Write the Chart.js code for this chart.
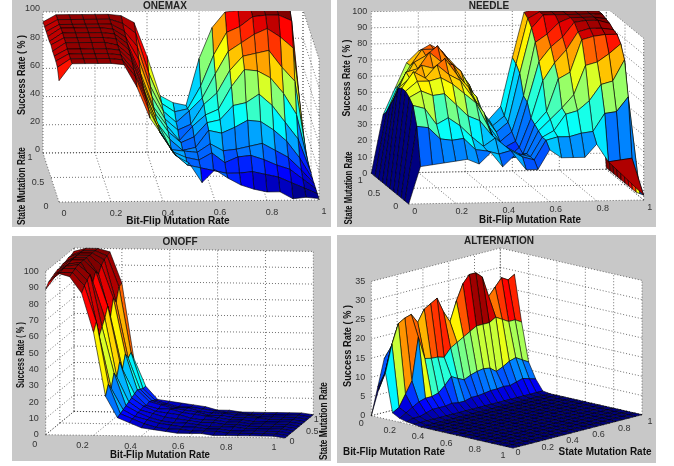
<!DOCTYPE html>
<html>
<head>
<meta charset="utf-8">
<style>
  body { margin: 0; background: #fff; width: 674px; height: 466px; overflow: hidden; }
  .panel { position: absolute; background: #c8c8c8; }
  canvas { position: absolute; filter: blur(0.4px); }
</style>
<script src="https://cdn.jsdelivr.net/npm/chart.js@4"></script>
</head>
<body>
<script>
// grids shared by the four surfaces
const bitFlipGrid = [0,.05,.1,.15,.2,.25,.3,.35,.4,.45,.5,.55,.6,.65,.7,.75,.8,.85,.9,.95,1];
const stateGrid = [0,.1,.2,.3,.4,.5,.6,.7,.8,.9,1];

// success rate, one row per state mutation rate
const onemaxRates = [
  [86,98,98,98,98,97,81,59,46,32,27,13,22,16,11,8,6,6,1,2,1],
  [92,98,98,98,98,97,85,62,44,30,22,20,18,16,16,17,15,13,9,5,1],
  [93,98,98,98,98,97,86,64,42,28,24,22,27,20,24,25,22,18,15,8,1],
  [93,98,98,98,98,97,88,65,44,26,25,24,30,25,26,28,30,25,20,11,1],
  [93,99,99,99,99,97,89,66,42,30,22,24,36,34,38,43,42,36,28,16,1],
  [94,99,99,99,99,98,90,68,45,32,24,28,38,40,50,52,58,50,38,26,2],
  [93,99,99,99,99,98,91,70,46,33,22,32,40,44,60,72,71,66,55,40,2],
  [93,99,99,99,99,98,92,76,50,34,26,30,44,52,68,78,80,82,70,60,2],
  [93,98,98,98,98,98,93,82,54,36,28,36,45,62,78,84,90,94,88,80,3],
  [93,98,98,98,98,98,95,88,60,38,32,34,50,72,88,92,99,100,100,96,3],
  [93,98,98,98,98,98,97,92,68,40,35,33,66,88,99,100,100,100,100,100,3]
];
const needleRates = [
  [0,23,24,25,26,27,24,31,22,29,20,20,32,27,27,27,35,24,25,26,3],
  [0,46,45,38,37,38,31,30,28,30,26,24,36,38,38,40,41,52,53,62,2],
  [0,57,55,45,49,44,37,31,36,30,26,24,36,40,50,52,58,68,70,83,1],
  [0,60,64,61,62,55,48,45,36,26,22,24,38,45,52,60,78,80,85,91,1],
  [0,62,68,68,70,66,60,54,40,24,20,22,40,48,68,72,92,94,95,95,1],
  [0,62,72,68,76,70,66,56,46,26,18,24,42,65,76,84,95,97,97,96,1],
  [0,60,66,74,72,78,68,60,46,30,22,26,50,75,84,90,99,100,100,98,1],
  [0,52,68,70,80,74,72,60,52,34,24,30,52,85,90,97,100,100,100,99,1],
  [0,46,60,72,76,82,72,66,52,38,28,34,64,92,100,100,100,100,100,100,1],
  [0,40,56,68,78,78,74,66,56,40,30,36,68,96,100,100,100,100,100,100,1],
  [0,36,52,68,75,79,75,64,56,41,32,40,70,98,100,100,100,100,100,100,1]
];
const onoffRates = [
  [89,99,97,87,63,24,11,8,5,4,3,2,2,2,1,1,1,1,1,1,0],
  [92,98,98,90,68,30,12,9,6,4,3,3,2,2,2,1,1,1,1,1,0],
  [93,99,99,92,58,26,13,9,7,5,4,3,3,2,2,1,1,1,1,1,0],
  [94,99,100,94,62,34,14,10,7,5,4,4,3,2,2,2,1,1,1,1,0],
  [95,99,100,88,66,30,15,10,8,6,5,4,3,3,2,2,1,1,1,1,0],
  [95,100,100,93,72,38,16,11,8,7,6,4,3,3,2,2,1,1,1,1,0],
  [96,100,100,90,64,32,17,10,8,8,6,5,4,3,2,2,1,1,1,1,0],
  [96,100,100,94,74,40,18,11,9,7,6,5,3,3,2,2,2,1,1,1,0],
  [97,100,100,96,70,36,17,10,8,6,6,4,3,3,2,2,1,1,1,1,0],
  [97,100,100,97,78,38,16,9,7,5,5,4,3,2,2,1,1,1,1,1,0],
  [98,100,100,98,79,33,16,8,7,6,5,4,2,2,1,1,1,1,1,1,0]
];
// alternation is sampled finer along the state rate, one row per bit-flip rate
const altStateGrid = bitFlipGrid;
const altFloor = [0,0,0,0,0,0,0,0,0,0,0,0,0,0,0,0,0,0,0,0,0];
const alternationRates = [
  [0,7,14,14,13,11,13,14,14,12,10,13,15,16,16,15,13,14,15,15,15],
  [7,11,17.6,18,16,14,17,18,18,16,14,17,20,21,21,20,17,18,19,19,19],
  [12,19,24,25,25.5,23,26,27,28,24,21,26,30,32,32,30.5,25,27,29,28,29],
  [2,3,6,9,20,14,13.6,13.5,13,15,16,17,18,19,19,19,20,19,18,18,17],
  [1,2,3,4,4.5,4.5,5,6.5,8.4,7.5,6.7,7.5,8,8.3,8,6.7,7.5,8.5,9,8,7],
  [.5,1,1,1.5,2,2,2,2.3,2,2,2.5,2.5,2.7,3,3,3.2,3,3.5,4,3.5,3],
  [.3,.3,.3,.3,.3,.3,.3,.3,.3,.3,.3,.3,.3,.3,.3,.3,.3,.3,.3,.3,.3],
  altFloor,altFloor,altFloor,altFloor,altFloor,altFloor,altFloor,
  altFloor,altFloor,altFloor,altFloor,altFloor,altFloor,altFloor
];
// the dark red fold under the front right of the needle surface
const needleFold = [[.85,0,24],[.95,0,26],[1,0,3]];

const ticks02 = [0,.2,.4,.6,.8,1];
const ticks05 = [0,.5,1];
const tens = [0,10,20,30,40,50,60,70,80,90,100];
const twenties = [0,20,40,60,80,100];
const fives = [0,5,10,15,20,25,30,35];

const panels = [
  { title:'ONEMAX', z:onemaxRates, ys:stateGrid, zMax:100, cMax:100,
    box:[12,0,319,227], canvas:[0,0,330,227],
    o:[59,202], ex:[260,-2], ey:[-16,-49], ez:[0,-141], wallX:1,
    xTicks:ticks02, yTicks:ticks05, zTicks:twenties,
    xOff:[5,12], yOff:[[-13,5],[-13,5],[-13,5]], zOff:[-3,-3],
    names:[['Success Rate ( % )',22,75,true,80],['State Mutation Rate',22,186,true,78],['Bit-Flip Mutation Rate',178,221,false,104]] },
  { title:'NEEDLE', z:needleRates, ys:stateGrid, zMax:100, cMax:100, extra:needleFold,
    box:[337,0,319,227], canvas:[322,0,334,227],
    o:[408.7,204], ex:[235,-4], ey:[-37.4,-30.7], ez:[0,-161.7], wallX:1,
    xTicks:ticks02, yTicks:ticks05, zTicks:tens,
    xOff:[6,8], yOff:[[-13,3],[-16,5],[-11,7]], zOff:[-4,0],
    names:[['Success Rate ( % )',347,78,true,77],['State Mutation Rate',349,188,true,73],['Bit-Flip Mutation Rate',530,220,false,102]] },
  { title:'ONOFF', z:onoffRates, ys:stateGrid, zMax:100, cMax:100,
    box:[12,236,319,225], canvas:[12,236,336,225],
    o:[45.7,434.7], ex:[239.3,3.3], ey:[28.3,-23.3], ez:[0,-163.3], wallX:0,
    xTicks:ticks02, yTicks:ticks05, zTicks:tens,
    xOff:[-11,10], yOff:[[7,4],[13,5],[3,5]], zOff:[-7,0],
    names:[['Success Rate ( % )',21,355,true,66],['State Mutation Rate',324,421,true,78],['Bit-Flip Mutation Rate',160,455,false,100]] },
  { title:'ALTERNATION', z:alternationRates, ys:altStateGrid, zMax:35, cMax:33,
    box:[337,235,319,228], canvas:[337,235,324,228],
    o:[371.3,415.7], ex:[141.7,32.3], ey:[129,-33.3], ez:[0,-134.3], wallX:0,
    xTicks:ticks02, yTicks:ticks02, zTicks:fives,
    xOff:[-10,8], yOff:[[5,5],[9,6],[8,6],[8,6],[8,7],[8,7]], zOff:[-6,0],
    names:[['Success Rate ( % )',348,346,true,82],['Bit-Flip Mutation Rate',394,452,false,102],['State Mutation Rate',605,452,false,93]] }
];

function jet(v) {
  const t = Math.round(Math.max(0, Math.min(1, v)) * 63) / 63;
  const c = d => Math.round(255 * Math.max(0, Math.min(1, 1.5 - Math.abs(4 * t - d))));
  return `rgb(${c(3)},${c(2)},${c(1)})`;
}

function project(p, x, y, z) {
  const k = Math.min(z, p.zMax) / p.zMax;
  return {
    x: p.o[0] + x * p.ex[0] + y * p.ey[0] + k * p.ez[0],
    y: p.o[1] + x * p.ex[1] + y * p.ey[1] + k * p.ez[1]
  };
}

function polygon(points, fillColor, line) {
  return {
    data: points.concat([points[0]]),
    showLine: true, fill: 'shape', tension: 0, pointRadius: 0,
    backgroundColor: fillColor, borderColor: line, borderWidth: line === 'transparent' ? 0 : 0.7
  };
}

function gridLine(a, b) {
  return {
    data: [a, b], showLine: true, fill: false, tension: 0, pointRadius: 0,
    borderColor: '#333', borderWidth: 0.7, borderDash: [1, 2]
  };
}

function buildDatasets(p) {
  const quads = [];
  const byBitFlip = p.z === alternationRates;
  // far side first for the painter's order, taken from how the axes lie on screen
  const depth = (x, y) => p.ex[0] * y - p.ey[0] * x;
  for (let j = 0; j < p.z.length - 1; j++) {
    for (let i = 0; i < bitFlipGrid.length - 1; i++) {
      let a = bitFlipGrid[i], b = bitFlipGrid[i + 1], c = p.ys[j], d = p.ys[j + 1];
      if (byBitFlip) { a = bitFlipGrid[j]; b = bitFlipGrid[j + 1]; c = p.ys[i]; d = p.ys[i + 1]; }
      const zs = byBitFlip
        ? [p.z[j][i], p.z[j + 1][i], p.z[j + 1][i + 1], p.z[j][i + 1]]
        : [p.z[j][i], p.z[j][i + 1], p.z[j + 1][i + 1], p.z[j + 1][i]];
      const corners = [[a, c], [b, c], [b, d], [a, d]];
      quads.push({
        key: depth((a + b) / 2, (c + d) / 2),
        set: polygon(corners.map((q, n) => project(p, q[0], q[1], zs[n])), jet(p.z[j][i] / p.cMax), 'rgba(0,0,0,0.85)')
      });
    }
  }
  quads.sort((m, n) => m.key - n.key);
  const sets = [];
  if (p.extra) sets.push(polygon(p.extra.map(q => project(p, q[0], q[1], q[2])), jet(.95), 'rgba(0,0,0,0.85)'));
  quads.forEach(q => sets.push(q.set));

  // walls and floor go under the surface
  const top = p.zMax, wx = p.wallX;
  p.xTicks.forEach(t => {
    sets.push(gridLine(project(p, t, 0, 0), project(p, t, 1, 0)));
    sets.push(gridLine(project(p, t, 1, 0), project(p, t, 1, top)));
  });
  p.yTicks.forEach(t => {
    sets.push(gridLine(project(p, 0, t, 0), project(p, 1, t, 0)));
    sets.push(gridLine(project(p, wx, t, 0), project(p, wx, t, top)));
  });
  p.zTicks.forEach(t => {
    sets.push(gridLine(project(p, 0, 1, t), project(p, 1, 1, t)));
    sets.push(gridLine(project(p, wx, 0, t), project(p, wx, 1, t)));
  });
  const corner = (x, y, z) => project(p, x, y, z);
  sets.push(polygon([corner(0,1,0), corner(1,1,0), corner(1,1,top), corner(0,1,top)], '#fff', 'transparent'));
  sets.push(polygon([corner(wx,0,0), corner(wx,1,0), corner(wx,1,top), corner(wx,0,top)], '#fff', 'transparent'));
  sets.push(polygon([corner(0,0,0), corner(1,0,0), corner(1,1,0), corner(0,1,0)], '#fff', 'transparent'));
  return sets;
}

// tick labels and axis names, placed through the chart's scales
const axisText = {
  id: 'axisText',
  afterDraw(chart, args, opts) {
    const p = opts.panel, ctx = chart.ctx;
    const sx = chart.scales.x, sy = chart.scales.y;
    const put = (text, x, y, align) => {
      ctx.textAlign = align;
      ctx.fillText(text, sx.getPixelForValue(x), sy.getPixelForValue(y));
    };
    ctx.save();
    ctx.textBaseline = 'middle';
    ctx.fillStyle = '#333';
    ctx.font = '9px "Liberation Sans"';
    p.xTicks.forEach(t => { const a = project(p, t, 0, 0); put(String(t), a.x + p.xOff[0], a.y + p.xOff[1], 'center'); });
    p.yTicks.forEach((t, n) => {
      const a = project(p, p.title === 'ONOFF' || p.title === 'ALTERNATION' ? 1 : 0, t, 0);
      put(String(t), a.x + p.yOff[n][0], a.y + p.yOff[n][1], 'center');
    });
    p.zTicks.forEach(t => { const a = project(p, 0, p.title === 'ONOFF' || p.title === 'ALTERNATION' ? 0 : 1, t); put(String(t), a.x + p.zOff[0], a.y + p.zOff[1], 'right'); });
    ctx.fillStyle = '#111';
    ctx.font = 'bold 10px "Liberation Sans"';
    p.names.forEach(n => {
      const px = sx.getPixelForValue(n[1]), py = sy.getPixelForValue(n[2]);
      ctx.save();
      ctx.translate(px, py);
      if (n[3]) ctx.rotate(-Math.PI / 2);
      ctx.textAlign = 'center';
      ctx.fillText(n[0], 0, 0, n[4]);
      ctx.restore();
    });
    ctx.restore();
  }
};

panels.forEach(p => {
  const bg = document.createElement('div');
  bg.className = 'panel';
  bg.style.cssText = `left:${p.box[0]}px;top:${p.box[1]}px;width:${p.box[2]}px;height:${p.box[3]}px`;
  document.body.appendChild(bg);
});

panels.forEach(p => {
  const [left, top, w, h] = p.canvas;
  const cv = document.createElement('canvas');
  cv.width = w; cv.height = h;
  cv.style.cssText = `left:${left}px;top:${top}px;width:${w}px;height:${h}px`;
  document.body.appendChild(cv);
  const titleH = 11;
  new Chart(cv.getContext('2d'), {
    type: 'scatter',
    data: { datasets: buildDatasets(p) },
    options: {
      responsive: false, animation: false, events: [],
      layout: { padding: 0 },
      scales: {
        x: { type: 'linear', display: false, min: left, max: left + w },
        y: { type: 'linear', display: false, min: top + titleH, max: top + h, reverse: true }
      },
      plugins: {
        legend: { display: false },
        tooltip: { enabled: false },
        title: { display: true, text: p.title, color: '#222', padding: { top: 1, bottom: 0 },
                 font: { family: '"Liberation Sans"', size: 10, weight: 'bold', lineHeight: 1 } },
        axisText: { panel: p }
      }
    },
    plugins: [axisText]
  });
});
</script>
</body>
</html>
